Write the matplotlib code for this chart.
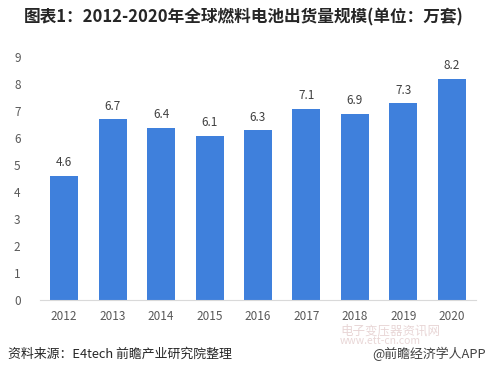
import matplotlib
matplotlib.use("Agg")
import matplotlib.pyplot as plt

plt.rcParams['font.family'] = ['Noto Sans CJK SC', 'DejaVu Sans']

YEARS = ["2012", "2013", "2014", "2015", "2016", "2017", "2018", "2019", "2020"]
SHIPMENTS = [4.6, 6.7, 6.4, 6.1, 6.3, 7.1, 6.9, 7.3, 8.2]
YTICKS = list(range(0, 10))

BAR = "#3f80dc"
TICK = "#595959"
LABEL = "#404040"

fig = plt.figure(figsize=(4.9, 3.72), dpi=100)
fig.patch.set_facecolor("white")
ax = fig.add_axes([40 / 490, 1 - 300 / 372, 436 / 490, (300 - 57.5) / 372])

x = range(len(YEARS))
ax.bar(x, SHIPMENTS, width=0.58, color=BAR)
for xi, v in zip(x, SHIPMENTS):
    ax.text(xi, v + 0.25, f"{v}", ha="center", va="bottom", fontsize=8.5, color=LABEL)

ax.set_xlim(-0.5, len(YEARS) - 0.5)
ax.set_ylim(0, 9)
ax.set_yticks(YTICKS)
ax.set_xticks(list(x))
ax.set_xticklabels(YEARS)
ax.tick_params(axis="both", length=0, labelsize=8.5, colors=TICK)
ax.tick_params(axis="y", pad=14)
ax.tick_params(axis="x", pad=7)
for s in ("top", "right", "left"):
    ax.spines[s].set_visible(False)
ax.spines["bottom"].set_color("#d9d9d9")

fig.text(0.497, 1 - 17 / 372, "图表1：2012-2020年全球燃料电池出货量规模(单位：万套)",
         ha="center", va="center", fontsize=12, fontweight="bold", color="#262626")

# faint site watermark, squeezed between tick labels and footer
fig.text(340 / 490, 1 - 331 / 372, "电子变压器资讯网", fontsize=9, color="#e3cccc",
         va="center", alpha=0.8)
fig.text(340 / 490, 1 - 341.5 / 372, "www.ett-cn.com", fontsize=7.5, color="#e3cccc",
         va="center", alpha=0.8)

fig.text(8 / 490, 1 - 354 / 372, "资料来源：E4tech 前瞻产业研究院整理",
         ha="left", va="center", fontsize=9.3, color="#262626")
fig.text(486 / 490, 1 - 354 / 372, "@前瞻经济学人APP",
         ha="right", va="center", fontsize=9.3, color="#404040")

fig.savefig("out.png", dpi=100, facecolor="white")
